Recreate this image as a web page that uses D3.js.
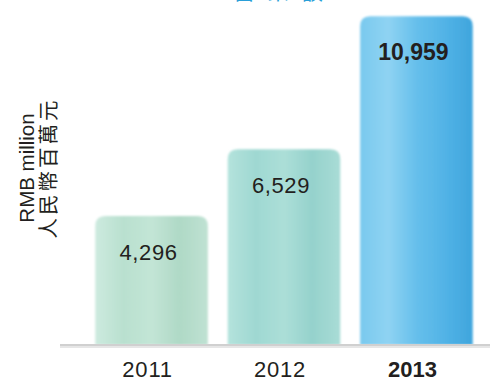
<!DOCTYPE html>
<html><head><meta charset="utf-8">
<script src="https://cdn.jsdelivr.net/npm/d3@7"></script>
<style>
html,body{margin:0;padding:0;background:#fff;}
svg{display:block;font-family:"Liberation Sans",Arial,sans-serif;}
</style></head>
<body>
<svg id="chart" width="492" height="381"></svg>
<script>
const years = ["2011", "2012", "2013"];
const values = [4296, 6529, 10959];
const valueLabels = ["4,296", "6,529", "10,959"];
const highlightYear = "2013";
const axisTitleEn = "RMB million";
const axisTitleZh = "人民幣百萬元";
const chartTitle = "營業額";

const svg = d3.select("#chart");
const W = 492, H = 381, baseY = 345;

const x = d3.scaleBand().domain(years).range([86, 482]).paddingInner(0.15).paddingOuter(0.07);
const y = d3.scaleLinear().domain([0, 11500]).range([baseY, 0]);

const defs = svg.append("defs");
const palettes = {
  "2011": ["#cdeadf", "#b9e0cf", "#c3e5d6", "#afd9c6", "#bfe2d3"],
  "2012": ["#b4e3dc", "#9fd8d2", "#acdfd8", "#95d2cc", "#a9dcd6"],
  "2013": ["#79c9ee", "#8fd3f3", "#66bfeb", "#52b3e6", "#3fa5dd"]
};
years.forEach(yr => {
  const g = defs.append("linearGradient").attr("id", "g" + yr)
    .attr("x1", "0").attr("x2", "1").attr("y1", "0").attr("y2", "0");
  const p = palettes[yr];
  p.forEach((c, i) => g.append("stop").attr("offset", i / (p.length - 1)).attr("stop-color", c));
});
defs.append("filter").attr("id", "soft").append("feGaussianBlur").attr("stdDeviation", 1.2);

// Title (mostly cropped at top, as in the reference)
svg.append("text").attr("x", 284).attr("y", -1).attr("text-anchor", "middle")
  .attr("font-size", 22).attr("letter-spacing", 12).attr("fill", "#2a9fd8")
  .attr("font-family", "'Noto Sans CJK TC', sans-serif").text(chartTitle);

// Bars
const data = years.map((yr, i) => ({ yr, v: values[i], label: valueLabels[i] }));
svg.append("g").selectAll("path").data(data).join("path")
  .attr("d", d => {
    const x0 = x(d.yr), x1 = x0 + x.bandwidth(), y0 = y(d.v), r = 10;
    return `M${x0},${baseY} L${x0},${y0 + r} Q${x0},${y0} ${x0 + r},${y0} L${x1 - r},${y0} Q${x1},${y0} ${x1},${y0 + r} L${x1},${baseY} Z`;
  })
  .attr("fill", d => `url(#g${d.yr})`)
  .attr("filter", "url(#soft)");

// Baseline
svg.append("line").attr("x1", 60).attr("x2", 490).attr("y1", baseY + 1).attr("y2", baseY + 1)
  .attr("stroke", "#e6e6e6").attr("stroke-width", 4);
svg.append("line").attr("x1", 60).attr("x2", 490).attr("y1", baseY).attr("y2", baseY)
  .attr("stroke", "#c8c8c8").attr("stroke-width", 1.5);

// Value labels
svg.append("g").selectAll("text").data(data).join("text")
  .attr("x", d => x(d.yr) + x.bandwidth() / 2 - 3)
  .attr("y", d => y(d.v) + 44)
  .attr("text-anchor", "middle")
  .attr("font-size", d => d.yr === highlightYear ? 23 : 22)
  .attr("font-weight", d => d.yr === highlightYear ? "bold" : "normal")
  .attr("letter-spacing", d => d.yr === highlightYear ? 0 : 0.6)
  .attr("fill", "#231f20")
  .text(d => d.label);

// X axis
const xAxis = svg.append("g").attr("transform", `translate(-4,${baseY})`)
  .call(d3.axisBottom(x).tickSize(0).tickPadding(0));
xAxis.select(".domain").remove();
xAxis.selectAll("text")
  .attr("y", 32).attr("dy", null)
  .attr("font-size", 22)
  .attr("letter-spacing", d => d === highlightYear ? 0 : 0.8)
  .attr("font-family", "'Liberation Sans', Arial, sans-serif")
  .attr("font-weight", d => d === highlightYear ? "bold" : "normal")
  .attr("fill", "#231f20");

// Y axis titles
svg.append("text").attr("transform", "translate(34,168) rotate(-90)")
  .attr("text-anchor", "middle").attr("font-size", 20.5).attr("fill", "#231f20").text(axisTitleEn);
svg.append("text").attr("transform", "translate(56,168) rotate(-90)")
  .attr("text-anchor", "middle").attr("font-size", 20.5).attr("letter-spacing", 3).attr("fill", "#231f20")
  .attr("font-family", "'Noto Sans CJK TC', sans-serif").text(axisTitleZh);
</script>
</body></html>
